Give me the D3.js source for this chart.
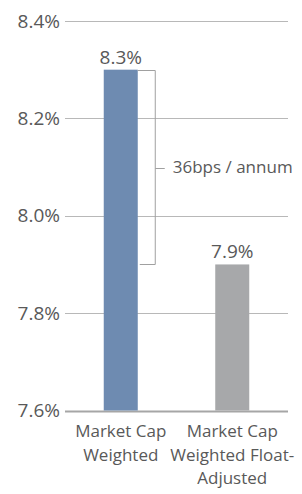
<!DOCTYPE html>
<html><head><meta charset="utf-8">
<script src="https://cdn.jsdelivr.net/npm/d3@7"></script>
<style>
html,body{margin:0;padding:0;background:#fff;}
svg{display:block;font-family:"Open Sans",sans-serif;}
</style></head>
<body>
<svg id="chart" width="302" height="494"></svg>
<script>
const categories = [["Market Cap","Weighted"],["Market Cap","Weighted Float-","Adjusted"]];
const values = [8.3, 7.9];
const valueLabels = ["8.3%","7.9%"];
const barColors = ["#6e8bb1","#a7a8aa"];
const yTicks = [7.6, 7.8, 8.0, 8.2, 8.4];
const yTickLabels = ["7.6%","7.8%","8.0%","8.2%","8.4%"];
const annotation = "36bps / annum";

(function(){
const svg = d3.select("#chart");
const pL = 65, pR = 288, pT = 21, pB = 410.5;
const x = d3.scaleBand().domain(d3.range(values.length)).range([pL, pR]).paddingInner(0.695).paddingOuter(0.3475);
const y = d3.scaleLinear().domain([7.6, 8.4]).range([pB, pT]);
const textColor = "#595959";

// gridlines
svg.append("g").selectAll("line").data(yTicks).join("line")
  .attr("x1", pL).attr("x2", pR)
  .attr("y1", d => Math.round(y(d)) + 0.5).attr("y2", d => Math.round(y(d)) + 0.5)
  .attr("stroke", (d,i) => i === 0 ? "#a6a6a6" : "#b8b8b8").attr("stroke-width", (d,i)=> i===0 ? 2 : 1);

// tick labels
svg.append("g").selectAll("text").data(yTicks).join("text")
  .attr("x", 60).attr("y", d => y(d)).attr("dy", "0.35em")
  .attr("text-anchor", "end").attr("fill", textColor).attr("font-size", 19)
  .text((d,i) => yTickLabels[i]);

// bars
svg.append("g").selectAll("rect").data(values).join("rect")
  .attr("x", (d,i) => x(i)).attr("width", x.bandwidth())
  .attr("y", d => y(d)).attr("height", d => y(7.6) - y(d))
  .attr("fill", (d,i) => barColors[i]);

// value labels
svg.append("g").selectAll("text").data(values).join("text")
  .attr("x", (d,i) => x(i) + x.bandwidth()/2).attr("y", d => y(d) - 6)
  .attr("text-anchor", "middle").attr("fill", textColor).attr("font-size", 19)
  .text((d,i) => valueLabels[i]);

// category labels
const cat = svg.append("g").selectAll("text").data(categories).join("text")
  .attr("text-anchor", "middle").attr("fill", textColor).attr("font-size", 17);
cat.each(function(lines, i){
  d3.select(this).selectAll("tspan").data(lines).join("tspan")
    .attr("x", x(i) + x.bandwidth()/2)
    .attr("y", (l, j) => 437 + j * 23.5)
    .text(l => l);
});

// bracket annotation
const bx0 = x(0) + x.bandwidth();
const bx = bx0 + 17;
const yTop = Math.round(y(values[0])) + 0.5, yBot = Math.round(y(values[1])) + 0.5;
const yMid = (yTop + yBot) / 2;
const br = svg.append("g").attr("stroke", "#a0a0a0").attr("stroke-width", 1).attr("fill", "none");
br.append("path").attr("d", `M${bx0},${yTop}H${bx+0.5}V${yBot}H${bx0+2}`);
br.append("line").attr("x1", bx+0.5).attr("x2", bx+10).attr("y1", Math.round(yMid)+0.5).attr("y2", Math.round(yMid)+0.5);
svg.append("text").attr("x", bx + 18).attr("y", yMid).attr("dy", "0.35em")
  .attr("fill", textColor).attr("font-size", 17).text(annotation);
})();
</script>
</body></html>
